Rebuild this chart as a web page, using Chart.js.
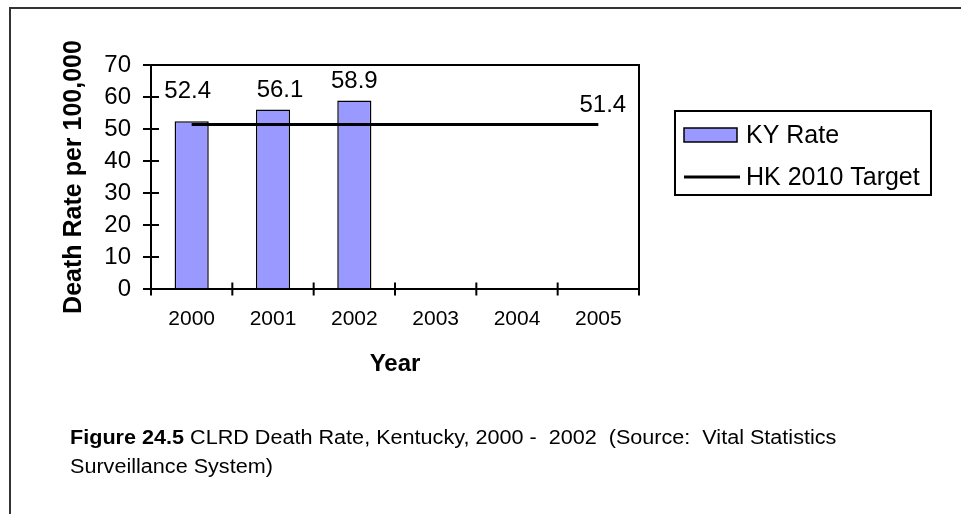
<!DOCTYPE html>
<html>
<head>
<meta charset="utf-8">
<script src="https://cdn.jsdelivr.net/npm/chart.js@4.4.0/dist/chart.umd.min.js"></script>
<style>
  html, body { margin: 0; padding: 0; background: #fff; }
  #wrap { position: relative; width: 961px; height: 514px; overflow: hidden; }
  #frame { position: absolute; left: 9px; top: 7px; width: 1000px; height: 600px;
           border: 2px solid #333; box-sizing: border-box; }
  #c { position: absolute; left: 0; top: 0; }
  #caption { position: absolute; left: 70px; top: 422.6px; color: #000;
             font-family: 'Liberation Sans', Arial, sans-serif; font-size: 20px;
             line-height: 29px; white-space: pre;
             transform: scaleX(1.08); transform-origin: 0 0; }
</style>
</head>
<body>
<div id="wrap">
  <div id="frame"></div>
  <canvas id="c" width="961" height="514"></canvas>
  <div id="caption"><b>Figure 24.5</b> CLRD Death Rate, Kentucky, 2000 -  2002  (Source:  Vital Statistics
Surveillance System)</div>
</div>
<script>
// Chart data
const years = ['2000', '2001', '2002', '2003', '2004', '2005'];
const kyRate = [52.4, 56.1, 58.9, null, null, null];
const hkTarget = [51.4, 51.4, 51.4, 51.4, 51.4, 51.4];
const rateTicks = [0, 10, 20, 30, 40, 50, 60, 70];

const FONT = "'Liberation Sans', Arial, sans-serif";

// Plot frame with tick marks that cross the axes
const plotFrame = {
  id: 'plotFrame',
  afterDatasetsDraw(chart) {
    const { ctx, chartArea: a, scales: { x, y } } = chart;
    ctx.save();
    ctx.strokeStyle = '#000';
    ctx.lineWidth = 2;
    ctx.strokeRect(a.left, a.top, a.right - a.left, a.bottom - a.top);
    ctx.beginPath();
    y.ticks.forEach(t => {
      const py = y.getPixelForValue(t.value);
      ctx.moveTo(a.left - 8, py);
      ctx.lineTo(a.left + 8, py);
    });
    const n = x.ticks.length;
    for (let i = 0; i <= n; i++) {
      const px = x.left + (x.right - x.left) * i / n;
      ctx.moveTo(px, a.bottom - 6.5);
      ctx.lineTo(px, a.bottom + 6.5);
    }
    ctx.stroke();
    ctx.restore();
  }
};

// Value labels above bars, and at the end of the target line
const labelNudge = { 0: { 0: [-4, -10.5], 1: [7, 0] }, 1: { 5: [4.5, 0] } };
const valueLabels = {
  id: 'valueLabels',
  afterDatasetsDraw(chart) {
    const ctx = chart.ctx;
    ctx.save();
    ctx.font = '24px ' + FONT;
    ctx.fillStyle = '#000';
    ctx.textAlign = 'center';
    ctx.textBaseline = 'alphabetic';
    chart.data.datasets.forEach((ds, di) => {
      const meta = chart.getDatasetMeta(di);
      meta.data.forEach((el, i) => {
        const v = ds.data[i];
        if (v == null) return;
        if (ds.type === 'line' && i !== ds.data.length - 1) return;
        const n = (labelNudge[di] && labelNudge[di][i]) || [0, 0];
        ctx.fillText(v.toFixed(1), el.x + n[0], el.y - 12.5 + n[1]);
      });
    });
    ctx.restore();
  }
};

// Boxed legend to the right of the plot
const boxLegend = {
  id: 'boxLegend',
  afterDraw(chart) {
    const { ctx, chartArea: a } = chart;
    const left = a.right + 36, top = 111, w = 256, h = 84;
    ctx.save();
    ctx.lineWidth = 2;
    ctx.strokeStyle = '#000';
    ctx.strokeRect(left, top, w, h);
    ctx.font = '25px ' + FONT;
    ctx.fillStyle = '#000';
    ctx.textAlign = 'left';
    ctx.textBaseline = 'middle';
    chart.data.datasets.forEach((ds, i) => {
      const cy = top + 24 + i * 42;
      if (ds.type === 'bar') {
        ctx.fillStyle = ds.backgroundColor;
        ctx.fillRect(left + 9, cy - 7, 53, 14);
        ctx.lineWidth = 1.5;
        ctx.strokeStyle = ds.borderColor;
        ctx.strokeRect(left + 9, cy - 7, 53, 14);
      } else {
        ctx.lineWidth = ds.borderWidth;
        ctx.strokeStyle = ds.borderColor;
        ctx.beginPath();
        ctx.moveTo(left + 9, cy);
        ctx.lineTo(left + 65, cy);
        ctx.stroke();
      }
      ctx.fillStyle = '#000';
      ctx.fillText(ds.label, left + 71, cy + 1);
    });
    ctx.restore();
  }
};

new Chart(document.getElementById('c'), {
  type: 'bar',
  data: {
    labels: years,
    datasets: [
      {
        type: 'bar',
        label: 'KY Rate',
        data: kyRate,
        backgroundColor: '#9999FF',
        borderColor: '#000',
        borderWidth: 1.5,
        barPercentage: 0.42,
        categoryPercentage: 1.0,
        order: 2
      },
      {
        type: 'line',
        label: 'HK 2010 Target',
        data: hkTarget,
        borderColor: '#000',
        borderWidth: 3,
        pointRadius: 0,
        fill: false,
        tension: 0,
        order: 1
      }
    ]
  },
  options: {
    responsive: false,
    animation: false,
    events: [],
    layout: { padding: { left: 0, top: 65, right: 322, bottom: 135 } },
    plugins: { legend: { display: false }, tooltip: { enabled: false } },
    scales: {
      x: {
        offset: true,
        grid: { display: false, drawTicks: false },
        border: { display: false },
        ticks: { padding: 18, color: '#000', font: { family: FONT, size: 21 } },
        title: {
          display: true, text: 'Year', color: '#000',
          font: { family: FONT, size: 24, weight: 'bold' },
          padding: { top: 0, bottom: 0 }
        },
        afterFit(s) { s.height = 90; }
      },
      y: {
        min: 0, max: 70,
        grid: { display: false, drawTicks: false },
        border: { display: false },
        afterBuildTicks(s) { s.ticks = rateTicks.map(v => ({ value: v })); },
        ticks: { padding: 20, color: '#000', font: { family: FONT, size: 24 } },
        title: {
          display: true, text: 'Death Rate per 100,000', color: '#000',
          font: { family: FONT, size: 25, weight: 'bold' },
          padding: { top: 59, bottom: 0 }
        },
        afterFit(s) { s.width = 151; }
      }
    }
  },
  plugins: [plotFrame, valueLabels, boxLegend]
});
</script>
</body>
</html>
